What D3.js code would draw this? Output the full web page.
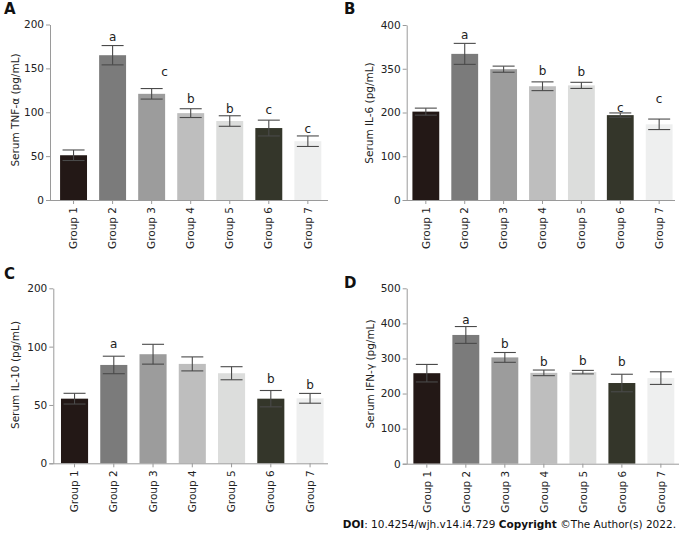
<!DOCTYPE html>
<html>
<head>
<meta charset="utf-8">
<script src="https://cdn.jsdelivr.net/npm/d3@7"></script>
<style>
  html, body { margin: 0; padding: 0; background: #fff; }
  svg { display: block; font-family: "DejaVu Sans", Verdana, sans-serif; }
</style>
</head>
<body>
<svg id="chart" width="680" height="533"></svg>
<script>
// ---------------- DATA ----------------
const groups = ["Group 1", "Group 2", "Group 3", "Group 4", "Group 5", "Group 6", "Group 7"];
const barColors = ["#231816", "#7b7b7b", "#9c9c9c", "#bebebe", "#dcdddc", "#34362a", "#eeefef"];

// Panel A: Serum TNF-α
const tnfMean = [51, 165, 121, 99, 90, 82, 67];
const tnfErr  = [6, 11, 6, 5, 6, 9, 6];
const tnfLetters = ["", "a", "c", "b", "b", "c", "c"];
const tnfTickValues = [0, 50, 100, 150, 200];
const tnfTickLabels = ["0", "50", "100", "150", "200"];

// Panel B: Serum IL-6 (tick labels as printed in the figure)
const il6Mean = [202, 334, 299, 260, 262, 194, 173];
const il6Err  = [8, 24, 7, 10, 7, 5, 12];
const il6Letters = ["", "a", "", "b", "b", "c", "c"];
const il6TickValues = [0, 100, 200, 300, 400];
const il6TickLabels = ["0", "100", "200", "350", "400"];

// Panel C: Serum IL-10 (tick labels as printed in the figure)
const il10Mean = [55.4, 84.3, 93.5, 85.2, 77.2, 55.4, 55.7];
const il10Err  = [4.6, 7.5, 8.5, 6, 5.6, 7, 4.2];
const il10Letters = ["", "a", "", "", "", "b", "b"];
const il10TickValues = [0, 50, 100, 150];
const il10TickLabels = ["0", "50", "100", "200"];

// Panel D: Serum IFN-γ
const ifnMean = [258, 367, 303, 259, 261, 230, 244];
const ifnErr  = [25, 24, 14, 8, 5, 25, 18];
const ifnLetters = ["", "a", "b", "b", "b", "b", ""];
const ifnTickValues = [0, 100, 200, 300, 400, 500];
const ifnTickLabels = ["0", "100", "200", "300", "400", "500"];

// ---------------- LAYOUT ----------------
const panels = [
  { tag: "A", tagX: 4, tagY: 14, ylabel: "Serum TNF-α (pg/mL)", labelX: 15, labelY: 110,
    mean: tnfMean, err: tnfErr, letters: tnfLetters, tv: tnfTickValues, tl: tnfTickLabels,
    domain: [0, 200], y0: 200, y1: 24.5, x0: 50, x1: 331.4, po: 0.258, axisEnd: 328,
    letterGap: [0, 9, 17, 10, 7, 10, 7], letterDx: [0, 0, 13, 0, 0, 0, 0] },
  { tag: "B", tagX: 344, tagY: 14, ylabel: "Serum IL-6 (pg/mL)", labelX: 369, labelY: 113,
    mean: il6Mean, err: il6Err, letters: il6Letters, tv: il6TickValues, tl: il6TickLabels,
    domain: [0, 400], y0: 200, y1: 25, x0: 406.7, x1: 678.3, po: 0.147, axisEnd: 675,
    letterGap: [0, 9, 0, 11, 11, 5, 20], letterDx: [0, 0, 0, 0, 0, 0, 0] },
  { tag: "C", tagX: 4, tagY: 279, ylabel: "Serum IL-10 (pg/mL)", labelX: 15, labelY: 375,
    mean: il10Mean, err: il10Err, letters: il10Letters, tv: il10TickValues, tl: il10TickLabels,
    domain: [0, 150], y0: 463.3, y1: 288.3, x0: 53.3, x1: 331.3, po: 0.196, axisEnd: 328,
    letterGap: [0, 12, 0, 0, 0, 12, 9], letterDx: [0, 0, 0, 0, 0, 0, 0] },
  { tag: "D", tagX: 344, tagY: 288, ylabel: "Serum IFN-γ (pg/mL)", labelX: 370, labelY: 374,
    mean: ifnMean, err: ifnErr, letters: ifnLetters, tv: ifnTickValues, tl: ifnTickLabels,
    domain: [0, 500], y0: 463.7, y1: 288.3, x0: 406.7, x1: 681, po: 0.171, axisEnd: 679,
    letterGap: [0, 7, 9, 8, 10, 12, 0], letterDx: [0, 0, 0, 0, 0, 0, 0] }
];

const svg = d3.select("#chart");
const axisColor = "#9a9a9a";
const errColor = "#4a4a4a";

panels.forEach(p => {
  const g = svg.append("g");
  const x = d3.scaleBand().domain(groups).range([p.x0, p.x1]).paddingInner(0.31).paddingOuter(p.po);
  const y = d3.scaleLinear().domain(p.domain).range([p.y0, p.y1]);
  const rows = groups.map((k, i) => ({ k, i, m: p.mean[i], e: p.err[i], l: p.letters[i] }));

  // bars
  g.selectAll("rect.bar").data(rows).join("rect")
    .attr("class", "bar")
    .attr("x", d => x(d.k))
    .attr("width", x.bandwidth())
    .attr("y", d => y(d.m))
    .attr("height", d => y(0) - y(d.m))
    .attr("fill", d => barColors[d.i]);

  // error bars
  const cap = 11;
  const eb = g.selectAll("g.err").data(rows).join("g").attr("class", "err")
    .attr("stroke", errColor).attr("stroke-width", 1.1).attr("fill", "none");
  eb.append("line")
    .attr("x1", d => x(d.k) + x.bandwidth() / 2).attr("x2", d => x(d.k) + x.bandwidth() / 2)
    .attr("y1", d => y(d.m - d.e)).attr("y2", d => y(d.m + d.e));
  eb.append("line")
    .attr("x1", d => x(d.k) + x.bandwidth() / 2 - cap).attr("x2", d => x(d.k) + x.bandwidth() / 2 + cap)
    .attr("y1", d => y(d.m + d.e)).attr("y2", d => y(d.m + d.e));
  eb.append("line")
    .attr("x1", d => x(d.k) + x.bandwidth() / 2 - cap).attr("x2", d => x(d.k) + x.bandwidth() / 2 + cap)
    .attr("y1", d => y(d.m - d.e)).attr("y2", d => y(d.m - d.e));

  // significance letters
  g.selectAll("text.sig").data(rows.filter(d => d.l)).join("text")
    .attr("class", "sig")
    .attr("x", d => x(d.k) + x.bandwidth() / 2 + p.letterDx[d.i])
    .attr("y", d => y(d.m + d.e) - p.letterGap[d.i])
    .attr("dy", "0.35em")
    .attr("text-anchor", "middle")
    .attr("font-size", 12)
    .attr("fill", "#222")
    .text(d => d.l);

  // y axis
  const yAxis = d3.axisLeft(y).tickValues(p.tv).tickFormat((d, i) => p.tl[i]).tickSize(4).tickPadding(2).tickSizeOuter(0);
  const ya = g.append("g").attr("transform", `translate(${p.x0},0)`).call(yAxis);
  ya.select(".domain").attr("stroke", axisColor);
  ya.selectAll(".tick line").attr("stroke", axisColor);
  ya.selectAll(".tick text").attr("font-size", 10.5).attr("fill", "#222").attr("font-family", "DejaVu Sans, Verdana, sans-serif");

  // x axis
  const xAxis = d3.axisBottom(x).tickSize(4).tickSizeOuter(0).tickPadding(3);
  const xa = g.append("g").attr("transform", `translate(0,${p.y0})`).call(xAxis);
  xa.select(".domain").attr("d", `M${p.x0 - 4},0.5H${p.axisEnd}`).attr("stroke", axisColor);
  xa.selectAll(".tick line").attr("stroke", axisColor);
  xa.selectAll(".tick text")
    .attr("font-size", 10.5).attr("fill", "#222").attr("font-family", "DejaVu Sans, Verdana, sans-serif")
    .attr("text-anchor", "end")
    .attr("transform", "rotate(-90)")
    .attr("x", -7).attr("y", 0).attr("dy", "0.35em");

  // y label
  svg.append("text")
    .attr("transform", `translate(${p.labelX},${p.labelY}) rotate(-90)`)
    .attr("text-anchor", "middle").attr("dy", "0.35em")
    .attr("font-size", 10.5).attr("fill", "#222")
    .text(p.ylabel);

  // panel tag
  svg.append("text").attr("x", p.tagX).attr("y", p.tagY)
    .attr("font-size", 15).attr("font-weight", "bold").attr("fill", "#111")
    .text(p.tag);
});

// footer
const foot = svg.append("text").attr("x", 676).attr("y", 528).attr("text-anchor", "end")
  .attr("font-size", 10.5).attr("fill", "#111");
foot.append("tspan").attr("font-weight", "bold").text("DOI");
foot.append("tspan").text(": 10.4254/wjh.v14.i4.729 ");
foot.append("tspan").attr("font-weight", "bold").text("Copyright");
foot.append("tspan").text(" ©The Author(s) 2022.");
</script>
</body>
</html>
